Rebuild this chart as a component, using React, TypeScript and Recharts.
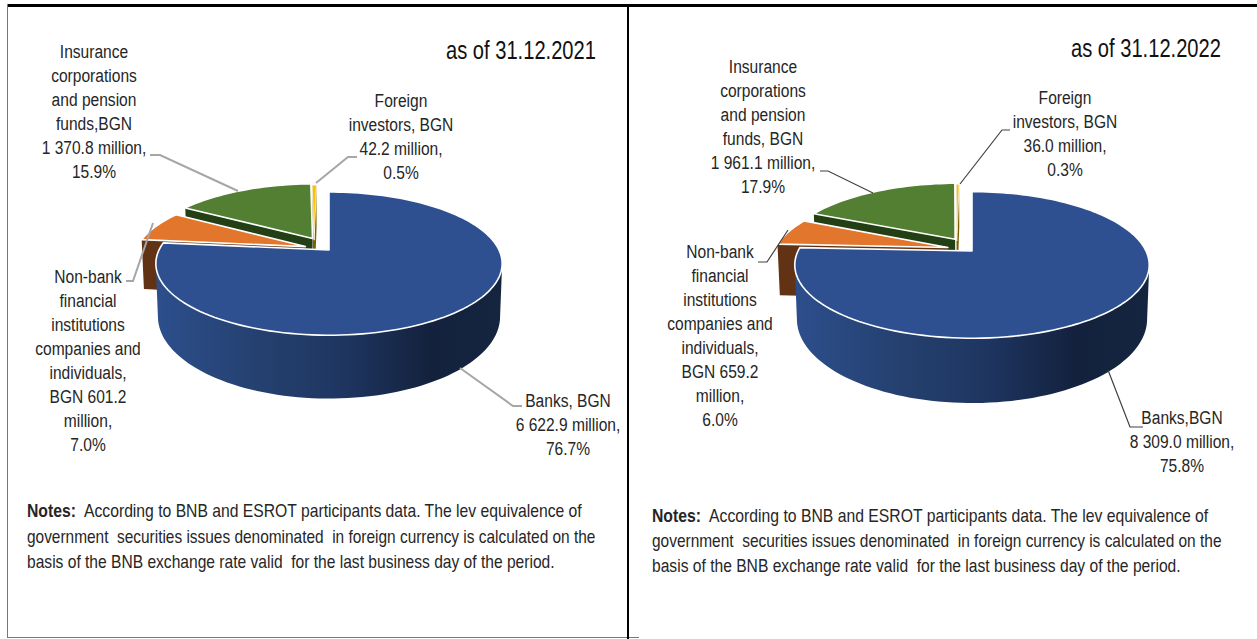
import React from "react";
import { PieChart, Pie } from "recharts";

const categories = ["Foreign", "Insurance", "Non-bank", "Banks"];
const values2021 = [42.2, 1370.8, 601.2, 6622.9];
const values2022 = [36.0, 1961.1, 659.2, 8309.0];
const title2021 = "as of 31.12.2021";
const title2022 = "as of 31.12.2022";
const labels2021 = [
  ["Foreign", "investors, BGN", "42.2 million,", "0.5%"],
  ["Insurance", "corporations", "and pension", "funds,BGN", "1 370.8 million,", "15.9%"],
  ["Non-bank", "financial", "institutions", "companies and", "individuals,", "BGN 601.2", "million,", "7.0%"],
  ["Banks, BGN", "6 622.9 million,", "76.7%"],
];
const labels2022 = [
  ["Foreign", "investors, BGN", "36.0 million,", "0.3%"],
  ["Insurance", "corporations", "and pension", "funds, BGN", "1 961.1 million,", "17.9%"],
  ["Non-bank", "financial", "institutions", "companies and", "individuals,", "BGN 659.2", "million,", "6.0%"],
  ["Banks,BGN", "8 309.0 million,", "75.8%"],
];
const notesHead = "Notes:";
const noteLines = [
  "According to BNB and ESROT participants data. The lev equivalence of",
  "government  securities issues denominated  in foreign currency is calculated on the",
  "basis of the BNB exchange rate valid  for the last business day of the period.",
];

const FONT = "'Liberation Sans', Arial, sans-serif";
const TEXT = "#262626";
const SQUEEZE = 0.82;
const topColors = ["#ffc000", "#527f32", "#e2762c", "#2e5090"];
const wallColors = ["#7f6000", "#233f15", "#613214", "url(#WALL)"];
// explosion of each slice, in units of the pie radius
const offsets = [
  [-0.09, 0.146],
  [-0.1, 0.173],
  [-0.14, 0.05],
  [0, 0],
];
const PERSP = 0.19;
const FLAT = 0.406;

function project(cx: number, cy: number, R: number, u: number, v: number) {
  const d = 1 + PERSP * v;
  return [cx + (R * u) / d, cy - (R * FLAT * v) / d];
}

function SliceShape(props: any) {
  const { cx, cy, outerRadius: R, startAngle, endAngle, index, gid } = props;
  const idx = index ?? categories.indexOf(props.payload?.name);
  const [ox, oy] = offsets[idx];
  const n = Math.max(2, Math.ceil(Math.abs(endAngle - startAngle) / 2));
  const pts: number[][] = [project(cx, cy, R, ox, oy)];
  for (let i = 0; i <= n; i++) {
    const a = ((startAngle + ((endAngle - startAngle) * i) / n) * Math.PI) / 180;
    pts.push(project(cx, cy, R, Math.cos(a) + ox, Math.sin(a) + oy));
  }
  const drop = (p: number[]) => {
    const rel = (cy - p[1]) / (R * FLAT);
    const depth = (R / 170) * (51 - 10 * rel);
    return [cx + (p[0] - cx) * 0.988, p[1] + depth];
  };
  const toD = (arr: number[][]) => "M" + arr.map((p) => `${p[0].toFixed(2)},${p[1].toFixed(2)}`).join("L") + "Z";
  const area = (a: number[][]) =>
    a.reduce((s, p, i) => {
      const q = a[(i + 1) % a.length];
      return s + p[0] * q[1] - q[0] * p[1];
    }, 0);
  const wall = wallColors[idx].replace("WALL", gid);
  let wallD = "";
  pts.forEach((p, i) => {
    const q = pts[(i + 1) % pts.length];
    const quad = [p, q, drop(q), drop(p)];
    wallD += toD(area(quad) < 0 ? quad.reverse() : quad);
  });
  return (
    <g>
      <defs>
        <linearGradient id={gid} gradientUnits="userSpaceOnUse" x1={cx - R} x2={cx + R} y1={0} y2={0}>
          <stop offset="0" stopColor="#2c4e8b" />
          <stop offset="0.3" stopColor="#25406f" />
          <stop offset="0.55" stopColor="#1e3560" />
          <stop offset="0.8" stopColor="#13213c" />
          <stop offset="1" stopColor="#15253f" />
        </linearGradient>
      </defs>
      <path d={wallD} fill={wall} fillRule="nonzero" />
      <path d={toD(pts)} fill={topColors[idx]} stroke="#ffffff" strokeWidth={idx === 0 ? 0.8 : 1.6} strokeLinejoin="round" />
    </g>
  );
}

function makeLabel(lines: string[][], layout: number[][], leaders: number[][][], stroke: string, leaderWidth: number) {
  return (props: any) => {
    const i = props.index;
    const [x, y] = layout[i];
    return (
      <g key={i}>
        <polyline points={leaders[i].map((p) => p.join(",")).join(" ")} fill="none" stroke={stroke} strokeWidth={leaderWidth} />
        <g transform={`translate(${x},${y}) scale(${SQUEEZE},1)`}>
          <text textAnchor="middle" fontFamily={FONT} fontSize={19} fill={TEXT} style={{ whiteSpace: "pre" }}>
            {lines[i].map((t, k) => (
              <tspan key={k} x={0} dy={k === 0 ? 0 : 24}>{t}</tspan>
            ))}
          </text>
        </g>
      </g>
    );
  };
}

// Natural width of a text, used to squeeze it to the narrow width the reference shows
const measureCtx = document.createElement("canvas").getContext("2d") as CanvasRenderingContext2D;
function natural(text: string, size: number, weight: number) {
  measureCtx.font = `${weight} ${size}px ${FONT}`;
  return measureCtx.measureText(text).width;
}

function Fit({ x, y, end, text, size, weight = 400, fill = TEXT }: { x: number; y: number; end: number; text: string; size: number; weight?: number; fill?: string }) {
  const k = (end - x) / natural(text, size, weight);
  return (
    <g transform={`translate(${x},${y}) scale(${k.toFixed(4)},1)`}>
      <text x={0} y={0} fontFamily={FONT} fontSize={size} fontWeight={weight} fill={fill} style={{ whiteSpace: "pre" }}>{text}</text>
    </g>
  );
}

type PanelProps = {
  left: number; width: number; cx: number; cy: number; R: number; gid: string; values: number[]; lines: string[][];
  layout: number[][]; leaders: number[][][]; stroke: string; leaderWidth: number; title: string; titleX: number; titleY: number;
  notes: { x: number; y: number; ends: number[]; textX: number; headEnd: number; gap: number };
};

function Panel({ left, width, cx, cy, R, gid, values, lines, layout, leaders, stroke, leaderWidth, title, titleX, titleY, notes }: PanelProps) {
  const data = categories.map((name, i) => ({ name, value: values[i] }));
  const nx = notes.x - left;
  return (
    <div style={{ position: "absolute", left, top: 0, width, height: 639 }}>
      <PieChart width={width} height={639} margin={{ top: 0, right: 0, bottom: 0, left: 0 }}>
        <Pie
          data={data}
          dataKey="value"
          nameKey="name"
          cx={cx - left}
          cy={cy}
          innerRadius={0}
          outerRadius={R}
          startAngle={90}
          endAngle={450}
          stroke="none"
          isAnimationActive={false}
          shape={(p: any) => <SliceShape {...p} gid={gid} />}
          label={makeLabel(lines, layout.map((l) => [l[0] - left, l[1]]), leaders.map((seg) => seg.map((pt) => [pt[0] - left, pt[1]])), stroke, leaderWidth)}
          labelLine={false}
        />
        <Fit x={titleX - left} y={titleY} end={titleX - left + 150} text={title} size={25} fill="#111" />
        <Fit x={nx} y={notes.y} end={notes.headEnd - left} text={notesHead} size={18} weight={700} />
        <Fit x={notes.textX - left} y={notes.y} end={notes.ends[0] - left} text={noteLines[0]} size={18} />
        <Fit x={nx} y={notes.y + notes.gap} end={notes.ends[1] - left} text={noteLines[1]} size={18} />
        <Fit x={nx} y={notes.y + notes.gap * 2} end={notes.ends[2] - left} text={noteLines[2]} size={18} />
      </PieChart>
    </div>
  );
}

const line = (x: number, y: number, w: number, h: number, c: string) => (
  <div style={{ position: "absolute", left: x, top: y, width: w, height: h, background: c }} />
);

export default function App() {
  return (
    <div style={{ position: "absolute", left: 0, top: 0, width: 1257, height: 639, background: "#fff", overflow: "hidden" }}>
      <Panel
        left={8} width={620} cx={329} cy={250} R={170} gid="wallA" values={values2021} lines={labels2021}
        layout={[[401, 107], [94, 58], [88, 283], [568, 407]]}
        leaders={[
          [[357, 157], [348, 157], [316, 183]],
          [[150, 155], [160, 155], [238, 191]],
          [[126, 281], [133, 281], [153, 223]],
          [[522, 406], [513, 406], [460, 368]],
        ]}
        stroke="#a6a6a6" leaderWidth={2} title={title2021} titleX={446} titleY={59}
        notes={{ x: 27, y: 517, textX: 84, headEnd: 76, ends: [583, 596, 555], gap: 25.5 }}
      />
      <Panel
        left={630} width={627} cx={972} cy={251} R={174} gid="wallB" values={values2022} lines={labels2022}
        layout={[[1065, 104], [763, 73], [720, 258], [1182, 424]]}
        leaders={[
          [[1010, 130], [1002, 130], [960, 184]],
          [[820, 171], [828, 171], [873, 193]],
          [[758, 262], [767, 262], [788, 230]],
          [[1143, 427], [1130, 427], [1108, 370]],
        ]}
        stroke="#404040" leaderWidth={1.2} title={title2022} titleX={1071} titleY={57}
        notes={{ x: 652, y: 522, textX: 709, headEnd: 701, ends: [1209, 1222, 1181], gap: 25 }}
      />
      {line(7, 4, 1250, 3, "#000")}
      {line(7, 4, 1, 634, "#777")}
      {line(7, 637, 632, 1, "#777")}
      {line(627, 4, 2, 635, "#000")}
    </div>
  );
}
